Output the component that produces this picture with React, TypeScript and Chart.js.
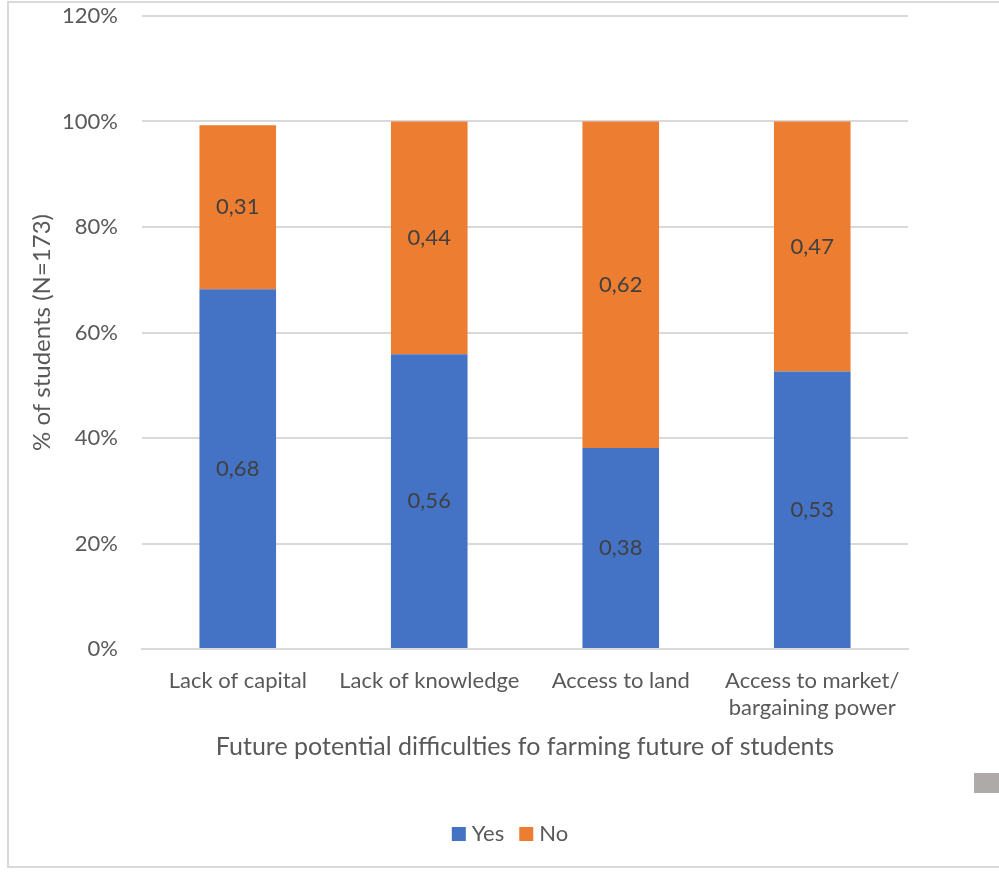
import React, { useEffect, useRef } from "react";
import { Chart, registerables } from "chart.js";

Chart.register(...registerables);

const categories: (string | string[])[] = [
  "Lack of capital",
  "Lack of knowledge",
  "Access to land",
  ["Access to market/", "bargaining power"],
];
const yesValues = [0.682, 0.559, 0.381, 0.526];
const noValues = [0.311, 0.441, 0.619, 0.474];
const yTicks = [0, 0.2, 0.4, 0.6, 0.8, 1.0, 1.2];

const FONT = "Lato";
const TEXT = "#595959";

const dataLabels = {
  id: "dataLabels",
  afterDatasetsDraw(chart: any) {
    const ctx = chart.ctx;
    ctx.save();
    ctx.font = `22px ${FONT}`;
    ctx.fillStyle = "#404040";
    ctx.textAlign = "center";
    ctx.textBaseline = "middle";
    chart.data.datasets.forEach((ds: any, di: number) => {
      const meta = chart.getDatasetMeta(di);
      meta.data.forEach((bar: any, i: number) => {
        const v = ds.data[i] as number;
        const y = (bar.y + bar.base) / 2;
        ctx.fillText(v.toFixed(2).replace(".", ","), bar.x, y);
      });
    });
    ctx.restore();
  },
};

const bottomLegend = {
  id: "bottomLegend",
  afterDraw(chart: any) {
    const ctx = chart.ctx;
    ctx.save();
    ctx.font = `22px ${FONT}`;
    ctx.textBaseline = "middle";
    ctx.textAlign = "left";
    const box = 14;
    const gap = 6;
    const itemGap = 15;
    const items = chart.data.datasets.map((ds: any) => ({
      label: ds.label as string,
      color: ds.backgroundColor as string,
      w: ctx.measureText(ds.label).width,
    }));
    const total =
      items.reduce((s: number, it: any) => s + box + gap + it.w, 0) + itemGap * (items.length - 1);
    let x = 510 - total / 2;
    const cy = 834;
    items.forEach((it: any) => {
      ctx.fillStyle = it.color;
      ctx.fillRect(x, cy - box / 2, box, box);
      x += box + gap;
      ctx.fillStyle = TEXT;
      ctx.fillText(it.label, x, cy);
      x += it.w + itemGap;
    });
    ctx.restore();
  },
};

export default function App() {
  const ref = useRef<HTMLCanvasElement>(null);
  useEffect(() => {
    if (!ref.current) return;
    const chart = new Chart(ref.current, {
      type: "bar",
      data: {
        labels: categories,
        datasets: [
          { label: "Yes", data: yesValues, backgroundColor: "#4472C4" },
          { label: "No", data: noValues, backgroundColor: "#ED7D31" },
        ],
      },
      plugins: [dataLabels, bottomLegend],
      options: {
        responsive: false,
        animation: false,
        layout: { padding: { left: 28, right: 91, top: 16, bottom: 110 } },
        datasets: { bar: { barPercentage: 0.4, categoryPercentage: 1 } } as any,
        scales: {
          x: {
            stacked: true,
            grid: { display: false, drawTicks: false },
            border: { display: true, color: "#d9d9d9", width: 2 },
            ticks: {
              color: TEXT,
              font: { family: FONT, size: 22 },
              padding: 19,
              maxRotation: 0,
              autoSkip: false,
            },
            title: {
              display: true,
              text: "Future potential difficulties fo farming future of students",
              color: TEXT,
              font: { family: FONT, size: 25 },
              padding: { top: 0, bottom: 0 },
            },
            afterFit: (s: any) => {
              s.height = 113;
            },
          },
          y: {
            stacked: true,
            min: 0,
            max: 1.2,
            afterBuildTicks: (s: any) => {
              s.ticks = yTicks.map((v) => ({ value: v }));
            },
            grid: { color: "#d9d9d9", lineWidth: 2, drawTicks: false },
            border: { display: false },
            ticks: {
              color: TEXT,
              font: { family: FONT, size: 22 },
              padding: 24,
              callback: (v: any) => `${Math.round(Number(v) * 100)}%`,
            },
            title: {
              display: true,
              text: "% of students (N=173)",
              color: TEXT,
              font: { family: FONT, size: 24 },
              padding: { top: 0, bottom: 0 },
            },
            afterFit: (s: any) => {
              s.width = 114;
              s.paddingTop = 0;
              s.paddingBottom = 0;
            },
          },
        },
        plugins: {
          legend: { display: false },
          tooltip: { enabled: false },
        },
      },
    });
    return () => chart.destroy();
  }, []);
  return (
    <div style={{ position: "fixed", left: 0, top: 0, width: 999, height: 872, background: "#fff", overflow: "hidden" }}>
      <div
        style={{
          position: "absolute",
          left: 7,
          top: 1,
          width: 1020,
          height: 867,
          border: "2px solid #d9d9d9",
          boxSizing: "border-box",
        }}
      />
      <div style={{ position: "absolute", left: 974, top: 773, width: 30, height: 20, background: "#aeaaaa" }} />
      <canvas ref={ref} width={999} height={872} style={{ position: "absolute", left: 0, top: 0 }} />
    </div>
  );
}
